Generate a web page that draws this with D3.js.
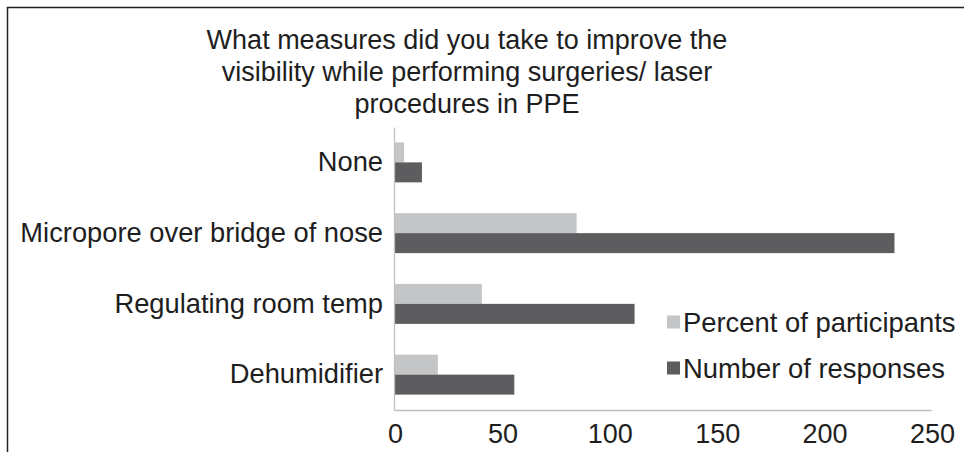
<!DOCTYPE html>
<html>
<head>
<meta charset="utf-8">
<script src="https://cdn.jsdelivr.net/npm/d3@7"></script>
<style>
  body { margin: 0; background: #fff; }
  svg { display: block; font-family: "Liberation Sans", Arial, sans-serif; }
</style>
</head>
<body>
<div id="chart"></div>
<script>
// data
const categories = ["None", "Micropore over bridge of nose", "Regulating room temp", "Dehumidifier"];
const seriesNames = ["Percent of participants", "Number of responses"];
const percentValues = [4.7, 85.0, 40.9, 20.4];
const responseValues = [13, 233, 112, 56];
const xTicks = [0, 50, 100, 150, 200, 250];
const titleLines = [
  "What measures did you take to improve the",
  "visibility while performing surgeries/ laser",
  "procedures in PPE"
];
const colors = ["#c4c5c7", "#5d5d5f"];

const width = 964, height = 452;
const textColor = "#1e1e1e";

const svg = d3.select("#chart").append("svg")
  .attr("width", width)
  .attr("height", height);

// frame (left + top only)
svg.append("path")
  .attr("d", `M7.5,${height} V7.5 H${width}`)
  .attr("fill", "none")
  .attr("stroke", "#222")
  .attr("stroke-width", 1.5);

// title
svg.append("g").selectAll("text")
  .data(titleLines)
  .join("text")
  .attr("x", 467)
  .attr("y", (d, i) => 49 + i * 32)
  .attr("text-anchor", "middle")
  .attr("font-size", 27)
  .attr("fill", textColor)
  .text(d => d);

const plot = { left: 394, right: 931, top: 127, bottom: 410 };

const x = d3.scaleLinear()
  .domain([0, 250])
  .range([plot.left, plot.right]);

const y = d3.scaleBand()
  .domain(categories)
  .range([plot.top, plot.bottom])
  .padding(0);

const ySub = d3.scaleBand()
  .domain(seriesNames)
  .range([0, y.bandwidth()])
  .paddingInner(0)
  .paddingOuter(0.77);

const rows = categories.map((c, i) => ({
  cat: c,
  vals: [
    { s: seriesNames[0], v: percentValues[i] },
    { s: seriesNames[1], v: responseValues[i] }
  ]
}));

// bars
const groups = svg.append("g").selectAll("g")
  .data(rows)
  .join("g")
  .attr("transform", d => `translate(0,${y(d.cat)})`);

groups.selectAll("rect")
  .data(d => d.vals)
  .join("rect")
  .attr("x", x(0))
  .attr("y", d => ySub(d.s))
  .attr("width", d => x(d.v) - x(0))
  .attr("height", ySub.bandwidth())
  .attr("fill", (d, i) => colors[i]);

// x axis
const xAxis = svg.append("g")
  .attr("transform", `translate(0,${plot.bottom})`)
  .call(d3.axisBottom(x).tickValues(xTicks).tickSize(0).tickPadding(0));
xAxis.select(".domain").attr("stroke", "#c0c0c0").attr("stroke-width", 1.3);
xAxis.selectAll("text")
  .attr("x", 1)
  .attr("y", 33)
  .attr("dy", 0)
  .attr("font-size", 27)
  .attr("font-family", "'Liberation Sans', Arial, sans-serif")
  .attr("fill", textColor);

// y axis
const yAxis = svg.append("g")
  .attr("transform", `translate(${plot.left},0)`)
  .call(d3.axisLeft(y).tickSize(0).tickPadding(11));
yAxis.select(".domain").attr("stroke", "#c0c0c0").attr("stroke-width", 1.3);
yAxis.selectAll("text")
  .attr("font-size", 27.3)
  .attr("font-family", "'Liberation Sans', Arial, sans-serif")
  .attr("fill", textColor);

// legend
const legend = svg.append("g")
  .attr("transform", "translate(667,322)");
const item = legend.selectAll("g")
  .data(seriesNames)
  .join("g")
  .attr("transform", (d, i) => `translate(0,${i * 46})`);
item.append("rect")
  .attr("x", 0)
  .attr("y", -6.5)
  .attr("width", 13)
  .attr("height", 13)
  .attr("fill", (d, i) => colors[i]);
item.append("text")
  .attr("x", 16)
  .attr("dy", "0.35em")
  .attr("font-size", 27.4)
  .attr("fill", textColor)
  .text(d => d);
</script>
</body>
</html>
